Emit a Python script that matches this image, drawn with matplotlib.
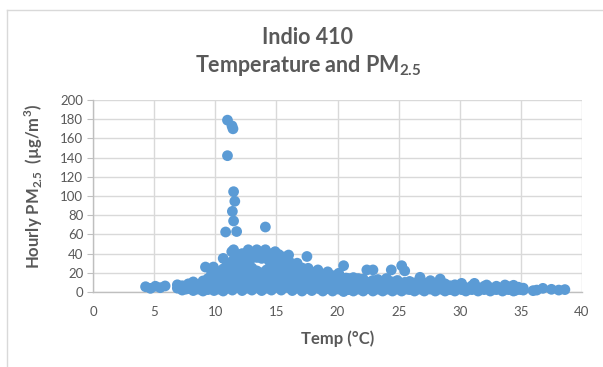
import matplotlib
matplotlib.use("Agg")
import matplotlib.pyplot as plt
from matplotlib.lines import Line2D

plt.rcParams["font.family"] = ["Lato", "DejaVu Sans"]
plt.rcParams["mathtext.fontset"] = "custom"
plt.rcParams["mathtext.rm"] = "Lato"
plt.rcParams["mathtext.bf"] = "Lato:bold"

# Hourly observations: temperature (°C) and PM2.5 (µg/m³)
temp_c = [
    4.3, 4.7, 5.1, 5.5, 5.9,
    6.9, 6.9, 7.3, 7.3, 7.8, 7.8, 8.2, 8.2, 8.2, 8.6, 8.6,
    9.0, 9.0, 9.0, 9.2, 9.4, 9.4, 9.4, 9.7, 9.85,
    9.9, 9.9, 9.9, 9.9, 10.3, 10.3, 10.3, 10.3,
    10.65, 10.65, 10.65, 10.65, 10.65, 10.65, 10.85,
    11.0, 11.0, 11.0, 11.0, 11.0, 11.0, 11.0,
    11.37, 11.45, 11.35,
    11.4, 11.4, 11.4, 11.4, 11.4, 11.4, 11.4,
    11.5, 11.5, 11.5, 11.6, 11.75,
    11.8, 11.8, 11.8, 11.8, 11.8, 11.8,
    12.2, 12.2, 12.2, 12.2, 12.2, 12.2, 12.2,
    12.6, 12.6, 12.6, 12.6, 12.6, 12.6, 12.7,
    13.0, 13.0, 13.0, 13.0, 13.0, 13.0,
    13.4, 13.4, 13.4, 13.4, 13.4, 13.4,
    13.8, 13.8, 13.8, 13.8, 13.8,
    14.1, 14.1, 14.2, 14.2, 14.2, 14.2, 14.2,
    14.6, 14.6, 14.6, 14.6, 14.6, 14.6, 14.6, 14.9,
    15.0, 15.0, 15.0, 15.0, 15.0,
    15.4, 15.4, 15.4, 15.4, 15.4, 15.4,
    15.85, 15.85, 15.85, 15.85, 15.85, 16.0,
    16.3, 16.3, 16.3, 16.3, 16.3,
    16.7, 16.7, 16.7, 16.7,
    17.1, 17.1, 17.1, 17.1, 17.1,
    17.5, 17.5, 17.5, 17.5, 17.6,
    17.9, 17.9, 17.9, 17.9,
    18.4, 18.4, 18.4, 18.4,
    18.8, 18.8, 18.8, 18.8,
    19.2, 19.2, 19.2, 19.2,
    19.6, 19.6, 19.6, 19.6,
    20.1, 20.1, 20.1, 20.1,
    20.5, 20.5, 20.5, 20.5,
    20.9, 20.9, 20.9,
    21.3, 21.3, 21.3, 21.3,
    21.7, 21.7, 21.7,
    22.1, 22.1, 22.1, 22.1, 22.4,
    22.5, 22.5,
    22.9, 22.9, 22.9, 22.9,
    23.3, 23.3, 23.3,
    23.7, 23.7, 23.7, 24.0,
    24.1, 24.1, 24.1, 24.4,
    24.5, 24.5, 24.5,
    24.9, 24.9, 24.9,
    25.25, 25.25,
    25.5, 25.5, 25.5,
    25.9, 25.9, 25.9,
    26.3, 26.3, 26.3,
    26.75, 26.75, 26.75,
    27.1, 27.1, 27.1,
    27.6, 27.6, 27.6,
    28.0, 28.0, 28.0,
    28.4, 28.4, 28.4,
    28.8, 28.8, 28.8,
    29.2, 29.2,
    29.6, 29.6, 29.6,
    30.15, 30.15, 30.15,
    30.5, 30.5, 31.0, 31.0, 31.2,
    31.5, 31.5, 32.0, 32.0, 32.2,
    32.5, 32.5, 33.0, 33.0,
    33.5, 33.5, 33.7, 34.0, 34.0,
    34.4, 34.4, 34.8, 34.8, 35.2, 35.2,
    36.0, 36.3, 36.8, 37.5, 38.1, 38.6,
    # additional hours in the dense low band
    7.1, 7.6, 8.0, 8.4, 8.8, 9.2, 9.6, 10.1, 10.5, 10.9,
    12.0, 12.4, 12.8, 13.2, 13.6, 14.0, 14.4, 14.8, 15.2, 15.6,
    16.1, 16.5, 16.9, 17.3, 17.7, 18.1, 18.6, 19.0, 19.4, 19.9,
    20.3, 20.7, 21.1, 21.5, 21.9, 22.3, 22.7, 23.1, 23.5, 23.9,
    24.3, 24.7, 25.1, 25.7, 26.1, 26.5, 26.9, 27.3, 27.8, 28.2,
    28.6, 29.0, 29.4, 29.9, 30.3, 30.8, 31.3, 31.7, 32.3, 32.8,
    33.2, 33.8, 34.2, 34.6, 35.0,
    # additional hours in the 8-35 µg/m³ range
    10.1, 10.5, 10.5, 10.9, 10.9, 10.9, 11.2, 11.2, 11.2, 11.2,
    11.6, 11.6, 11.6, 11.6, 12.0, 12.0, 12.0, 12.0, 12.0,
    12.4, 12.4, 12.4, 12.4, 12.4, 12.8, 12.8, 12.8, 12.8, 12.8,
    13.2, 13.2, 13.2, 13.2, 13.6, 13.6, 13.6, 14.0, 14.0, 14.0,
    14.4, 14.4, 14.4, 14.4, 14.8, 14.8, 14.8, 14.8, 14.8,
    15.2, 15.2, 15.2, 15.2, 15.2, 15.6, 15.6, 15.6, 15.6, 15.6,
    16.1, 16.1, 16.1, 16.1, 16.5, 16.5, 16.5, 16.5,
    16.9, 16.9, 16.9, 17.3, 17.3, 17.3, 17.7, 17.7, 17.7,
    18.1, 18.1, 18.1, 18.6, 18.6, 18.6, 19.0, 19.0, 19.0,
    19.4, 19.4, 19.9, 19.9, 20.3, 20.3, 20.7, 20.7,
    21.1, 21.1, 21.5, 21.5, 21.9, 22.3, 22.7, 23.1, 23.5, 23.9,
    24.3, 24.7, 25.1, 25.7, 26.1, 26.5, 27.3, 27.8,
]
pm25 = [
    5.5, 3.8, 6.0, 4.5, 6.3,
    4.0, 7.5, 2.0, 6.5, 3.5, 8.5, 1.5, 6.0, 10.5, 3.0, 8.0,
    1.0, 5.5, 11.5, 26.0, 2.5, 7.5, 14.0, 19.5, 26.0,
    1.5, 5.0, 10.0, 16.0, 3.0, 8.0, 13.0, 20.0,
    35.0, 1.0, 6.0, 11.0, 17.0, 24.0, 62.5,
    179.0, 142.0, 4.0, 9.0, 15.0, 21.0, 28.0,
    173.0, 170.0, 42.0,
    84.0, 2.0, 7.0, 12.0, 19.0, 25.0, 32.0,
    104.5, 74.0, 44.0, 94.5, 63.0,
    5.0, 10.0, 17.0, 23.0, 30.0, 36.0,
    40.0, 1.5, 7.0, 13.0, 19.0, 26.0, 33.0,
    4.0, 9.0, 15.0, 22.0, 29.0, 37.0, 44.0,
    2.0, 7.5, 13.0, 19.0, 25.0, 38.0,
    44.0, 5.0, 11.0, 17.0, 22.0, 36.0,
    1.5, 8.0, 14.0, 20.0, 35.0,
    44.0, 67.7, 4.0, 11.0, 17.0, 23.0, 37.0,
    38.5, 2.0, 8.0, 14.0, 20.0, 27.0, 32.0, 42.0,
    5.0, 11.0, 17.0, 24.0, 30.0,
    2.0, 8.0, 14.0, 21.0, 27.0, 34.0,
    33.0, 5.0, 11.0, 18.0, 24.0, 38.5,
    1.5, 8.0, 13.0, 20.0, 27.0,
    30.0, 4.0, 10.0, 19.0,
    1.0, 7.0, 12.0, 20.0, 25.0,
    37.0, 4.0, 10.0, 19.0, 24.7,
    1.5, 7.0, 12.0, 18.0,
    23.0, 4.0, 9.5, 16.0,
    1.0, 6.5, 12.0, 18.0,
    21.0, 3.5, 9.0, 15.0,
    1.0, 6.0, 11.5, 17.0,
    19.5, 3.0, 8.5, 14.0,
    27.4, 0.5, 5.5, 11.0,
    14.0, 2.5, 8.0,
    1.0, 5.0, 10.5, 15.0,
    14.0, 3.0, 8.0,
    1.0, 6.0, 11.0, 13.5, 23.0,
    3.5, 8.5,
    23.0, 1.0, 6.0, 12.0,
    3.0, 8.5, 13.0,
    1.0, 5.5, 11.0, 14.0,
    3.0, 8.0, 12.5, 23.0,
    1.0, 5.5, 10.5,
    3.0, 8.0, 12.0,
    27.4, 1.0,
    22.0, 5.5, 10.0,
    2.5, 8.0, 11.0,
    1.0, 5.0, 9.5,
    15.3, 3.0, 7.5,
    1.0, 5.5, 9.5,
    11.8, 3.0, 7.0,
    1.0, 5.0, 8.5,
    13.5, 3.0, 7.0,
    1.0, 5.0, 8.5,
    2.5, 6.5,
    1.0, 4.5, 7.5,
    9.0, 2.5, 6.0,
    1.0, 4.5, 2.5, 6.5, 9.0,
    1.0, 4.5, 2.5, 6.0, 7.3,
    1.0, 4.5, 2.5, 6.0,
    1.0, 4.5, 7.3, 2.5, 5.5,
    7.0, 1.0, 3.0, 5.0, 2.0, 4.0,
    1.4, 2.0, 3.8, 2.8, 2.0, 2.5,
    # additional hours in the dense low band
    4.5, 3.0, 4.5, 5.0, 3.5, 4.0, 4.5, 6.5, 4.5, 6.0,
    4.0, 5.0, 6.0, 4.5, 3.5, 6.5, 5.0, 4.5, 6.0, 5.0,
    4.0, 6.5, 4.5, 5.5, 3.5, 4.0, 3.0, 4.5, 6.0, 5.5,
    3.0, 2.5, 4.0, 6.0, 3.5, 5.0, 3.5, 5.5, 3.0, 5.0,
    5.5, 3.5, 5.0, 3.0, 5.5, 3.0, 4.5, 3.0, 4.5, 5.0,
    3.0, 4.0, 3.5, 4.0, 3.5, 3.0, 3.5, 3.0, 3.5, 3.0,
    3.5, 3.0, 3.5, 2.0, 2.5,
    # additional hours in the 8-35 µg/m³ range
    12.5, 15.5, 22.0, 12.5, 19.0, 26.0, 10.5, 17.5, 24.0, 30.0,
    14.5, 21.5, 27.5, 38.0, 10.5, 16.0, 22.5, 29.5, 36.5,
    12.0, 18.0, 24.5, 30.5, 38.5, 11.5, 17.5, 24.0, 32.0, 40.5,
    10.0, 16.0, 21.5, 40.0, 13.5, 19.0, 39.5, 10.0, 16.0, 40.5,
    12.5, 19.5, 32.5, 40.0, 10.5, 17.0, 23.5, 29.5, 36.0,
    13.5, 20.0, 26.5, 33.0, 39.0, 10.5, 17.5, 24.0, 30.5, 36.5,
    12.5, 18.5, 25.0, 31.0, 11.5, 16.0, 23.5, 28.0,
    9.5, 15.5, 22.5, 10.0, 15.0, 22.0, 9.5, 15.5, 21.5,
    9.5, 14.0, 20.5, 9.0, 14.5, 19.5, 8.5, 13.5, 18.5,
    10.5, 16.0, 10.0, 15.5, 9.5, 15.0, 9.0, 14.5,
    9.0, 13.5, 8.5, 12.5, 9.5, 10.0, 10.5, 9.5, 10.0, 9.5,
    10.0, 9.5, 9.0, 8.5, 8.0, 8.5, 7.5, 8.0,
]

x_ticks = [0, 5, 10, 15, 20, 25, 30, 35, 40]
y_ticks = [0, 20, 40, 60, 80, 100, 120, 140, 160, 180, 200]

text_gray = "#595959"
grid_gray = "#D9D9D9"
axis_gray = "#BFBFBF"
point_blue = "#5B9BD5"

fig = plt.figure(figsize=(6.03, 3.67), dpi=100)
fig.patch.set_facecolor("white")

# chart-area frame (top and left edges)
fig.add_artist(Line2D([6.5 / 603, 6.5 / 603], [0, 1 - 9.5 / 367],
                      transform=fig.transFigure, color=grid_gray, lw=1))
fig.add_artist(Line2D([6.5 / 603, 1], [1 - 9.5 / 367, 1 - 9.5 / 367],
                      transform=fig.transFigure, color=grid_gray, lw=1))

ax = fig.add_axes([93 / 603, 1 - 292 / 367, (582 - 93) / 603, (292 - 100) / 367])
ax.scatter(temp_c, pm25, s=60, color=point_blue, edgecolors="none",
           zorder=3, clip_on=False)

ax.set_xlim(0, 40)
ax.set_ylim(0, 200)
ax.set_xticks(x_ticks)
ax.set_yticks(y_ticks)
ax.grid(True, color=grid_gray, lw=1)
ax.set_axisbelow(True)

for side in ("top", "right"):
    ax.spines[side].set_visible(False)
for side in ("left", "bottom"):
    ax.spines[side].set_color(axis_gray)
    ax.spines[side].set_linewidth(1)

ax.tick_params(axis="y", length=4, color=axis_gray, labelcolor=text_gray,
               labelsize=9.5, pad=3)
ax.tick_params(axis="x", length=0, labelcolor=text_gray, labelsize=9.5, pad=10)

ax.set_xlabel("Temp (°C)", fontsize=12, fontweight="bold", color=text_gray,
              labelpad=9)
ax.set_ylabel("Hourly PM$_{\\mathbf{2.5}}$  (µg/m$^{\\mathbf{3}}$)", fontsize=12,
              fontweight="bold", color=text_gray)
ax.yaxis.set_label_coords(-0.098, 0.55)

fig.text(308 / 603, 1 - 37 / 367, "Indio 410", ha="center", va="center",
         fontsize=15.5, fontweight="bold", color=text_gray)
fig.text(308 / 603, 1 - 66 / 367, "Temperature and PM$_{\\mathbf{2.5}}$",
         ha="center", va="center", fontsize=15.5, fontweight="bold", color=text_gray)

fig.savefig("out.png", dpi=100, facecolor="white")
